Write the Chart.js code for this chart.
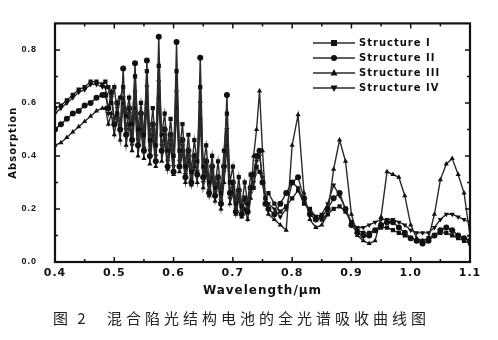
<!DOCTYPE html>
<html>
<head>
<meta charset="utf-8">
<script src="https://cdn.jsdelivr.net/npm/chart.js@4/dist/chart.umd.min.js"></script>
<style>
  body { margin: 0; background: #fff; }
  #wrap { position: relative; width: 498px; height: 340px; }
  .cap { position: absolute; top: 307px; font: 15px "Noto Sans CJK SC", sans-serif; color: #222; }
</style>
</head>
<body>
<div id="wrap">
  <canvas id="absChart" width="498" height="340"></canvas>
  <span class="cap" style="left:53px; letter-spacing:3px">图&nbsp;2</span>
  <span class="cap" style="left:107px; letter-spacing:4px">混合陷光结构电池的全光谱吸收曲线图</span>
</div>
<script>
// wavelength (um): coarse at the ends, 5 nm steps through the resonance region
let wavelength = [
    0.40,0.41,0.42,0.43,0.44,0.45,0.46,0.47,0.48,
    0.485,0.490,0.495,0.500,0.505,0.510,0.515,0.520,0.525,0.530,
    0.535,0.540,0.545,0.550,0.555,0.560,0.565,0.570,0.575,0.580,
    0.585,0.590,0.595,0.600,0.605,0.610,0.615,0.620,0.625,0.630,
    0.635,0.640,0.645,0.650,0.655,0.660,0.665,0.670,0.675,0.680,
    0.685,0.690,0.695,0.700,0.705,0.710,0.715,0.720,0.725,0.730,
    0.735,0.740,0.745,0.750,0.755,0.760,
    0.77,0.78,0.79,0.80,0.81,0.82,0.83,0.84,0.85,0.86,
    0.87,0.88,0.89,0.90,0.91,0.92,0.93,0.94,0.95,0.96,
    0.97,0.98,0.99,1.00,1.01,1.02,1.03,1.04,1.05,1.06,
    1.07,1.08,1.09,1.10
];

let seriesNames = ["Structure I", "Structure II", "Structure III", "Structure IV"];

let structure1 = [
    0.58,0.59,0.61,0.63,0.65,0.66,0.68,0.68,0.67,
    0.68,0.66,0.60,0.66,0.56,0.62,0.66,0.55,0.62,0.52,
    0.70,0.50,0.60,0.48,0.72,0.46,0.58,0.44,0.74,0.48,
    0.56,0.42,0.54,0.40,0.72,0.42,0.52,0.36,0.48,0.34,
    0.46,0.38,0.66,0.36,0.44,0.30,0.40,0.28,0.38,0.26,
    0.42,0.56,0.30,0.36,0.22,0.32,0.21,0.30,0.22,0.33,
    0.28,0.36,0.34,0.30,0.24,0.26,
    0.22,0.19,0.21,0.24,0.27,0.22,0.20,0.17,0.16,0.18,
    0.20,0.21,0.19,0.15,0.12,0.11,0.11,0.12,0.13,0.13,
    0.12,0.11,0.10,0.09,0.08,0.08,0.09,0.10,0.11,0.11,
    0.10,0.09,0.08,0.07
];
let structure2 = [
    0.50,0.52,0.54,0.56,0.57,0.59,0.60,0.62,0.63,
    0.63,0.58,0.64,0.52,0.60,0.50,0.73,0.48,0.58,0.46,
    0.75,0.44,0.56,0.42,0.76,0.40,0.52,0.38,0.85,0.42,
    0.50,0.36,0.48,0.34,0.83,0.36,0.46,0.32,0.42,0.30,
    0.40,0.33,0.77,0.32,0.38,0.26,0.36,0.25,0.32,0.22,
    0.36,0.63,0.26,0.30,0.19,0.27,0.18,0.24,0.19,0.28,
    0.33,0.40,0.42,0.30,0.22,0.20,
    0.18,0.22,0.26,0.30,0.32,0.24,0.18,0.16,0.17,0.20,
    0.24,0.26,0.20,0.14,0.11,0.10,0.10,0.12,0.14,0.15,
    0.15,0.13,0.11,0.09,0.08,0.07,0.08,0.10,0.12,0.13,
    0.12,0.10,0.09,0.08
];
let structure3 = [
    0.44,0.45,0.47,0.49,0.51,0.53,0.55,0.57,0.58,
    0.58,0.52,0.56,0.48,0.55,0.46,0.60,0.44,0.52,0.42,
    0.58,0.40,0.50,0.39,0.60,0.37,0.48,0.36,0.62,0.38,
    0.46,0.35,0.44,0.33,0.58,0.34,0.42,0.30,0.38,0.29,
    0.36,0.30,0.54,0.28,0.34,0.25,0.32,0.23,0.30,0.20,
    0.30,0.44,0.22,0.26,0.18,0.24,0.17,0.20,0.16,0.24,
    0.40,0.50,0.645,0.42,0.24,0.18,
    0.16,0.14,0.12,0.44,0.555,0.26,0.16,0.13,0.14,0.18,
    0.35,0.46,0.38,0.18,0.10,0.08,0.07,0.08,0.17,0.34,
    0.33,0.32,0.25,0.14,0.09,0.08,0.09,0.18,0.31,0.37,
    0.39,0.33,0.26,0.10
];
let structure4 = [
    0.56,0.58,0.60,0.62,0.64,0.65,0.67,0.67,0.66,
    0.66,0.56,0.62,0.54,0.58,0.50,0.62,0.50,0.56,0.44,
    0.64,0.46,0.54,0.43,0.66,0.42,0.50,0.40,0.68,0.44,
    0.48,0.38,0.46,0.36,0.64,0.38,0.44,0.33,0.40,0.31,
    0.38,0.34,0.60,0.30,0.36,0.27,0.34,0.26,0.31,0.23,
    0.34,0.50,0.24,0.28,0.20,0.25,0.19,0.23,0.20,0.26,
    0.30,0.38,0.40,0.32,0.24,0.22,
    0.20,0.17,0.20,0.30,0.28,0.23,0.19,0.17,0.18,0.22,
    0.29,0.25,0.20,0.15,0.13,0.13,0.14,0.15,0.16,0.16,
    0.16,0.15,0.14,0.12,0.11,0.11,0.11,0.13,0.16,0.18,
    0.18,0.17,0.16,0.15
];

let allSeries = [structure1, structure2, structure3, structure4];
let markers = [
    { style: "rect", rot: 0 },
    { style: "circle", rot: 0 },
    { style: "triangle", rot: 0 },
    { style: "triangle", rot: 180 }
];

let datasets = allSeries.map(function (s, k) {
    return {
        label: seriesNames[k],
        data: wavelength.map(function (w, i) { return { x: w, y: s[i] }; }),
        borderColor: "#2a2a2a",
        borderWidth: 1.4,
        backgroundColor: "#111",
        pointBackgroundColor: "#111",
        pointBorderColor: "#111",
        pointBorderWidth: 0,
        pointStyle: markers[k].style,
        pointRotation: markers[k].rot,
        pointRadius: 3,
        tension: 0
    };
});

// inward ticks on all four sides, heavy frame, legend inside plot
let framePlugin = {
    id: "frame",
    beforeDraw: function (chart) { chart.ctx.letterSpacing = "1px"; },
    beforeDatasetsDraw: function (chart) { chart.ctx.letterSpacing = "0px"; },
    afterDraw: function (chart) {
        let ctx = chart.ctx, a = chart.chartArea;
        let xs = chart.scales.x, ys = chart.scales.y;
        ctx.save();
        ctx.strokeStyle = "#111";
        ctx.lineWidth = 1.5;
        xs.ticks.forEach(function (t) {
            let px = xs.getPixelForValue(t.value);
            if (px <= a.left + 1 || px >= a.right - 1) return;
            let len = Math.round(t.value * 100) % 10 === 0 ? 5 : 3;
            ctx.beginPath();
            ctx.moveTo(px, a.bottom); ctx.lineTo(px, a.bottom - len);
            ctx.moveTo(px, a.top); ctx.lineTo(px, a.top + len);
            ctx.stroke();
        });
        ys.ticks.forEach(function (t) {
            let py = ys.getPixelForValue(t.value);
            if (py <= a.top + 1 || py >= a.bottom - 1) return;
            let len = Math.round(t.value * 10) % 2 === 0 ? 5 : 3;
            ctx.beginPath();
            ctx.moveTo(a.left, py); ctx.lineTo(a.left + len, py);
            ctx.moveTo(a.right, py); ctx.lineTo(a.right - len, py);
            ctx.stroke();
        });
        ctx.lineWidth = 2.2;
        ctx.strokeRect(a.left, a.top, a.right - a.left, a.bottom - a.top);

        ctx.font = "bold 10px 'DejaVu Sans', sans-serif";
        ctx.letterSpacing = "1px";
        ctx.textBaseline = "middle";
        ctx.fillStyle = "#111";
        chart.data.datasets.forEach(function (ds, k) {
            let y = 43 + k * 15;
            ctx.lineWidth = 1.4;
            ctx.strokeStyle = "#2a2a2a";
            ctx.beginPath(); ctx.moveTo(313, y); ctx.lineTo(355, y); ctx.stroke();
            let r = 3, cx = 334;
            ctx.beginPath();
            if (markers[k].style === "rect") {
                ctx.rect(cx - r, y - r, 2 * r, 2 * r);
            } else if (markers[k].style === "circle") {
                ctx.arc(cx, y, r, 0, Math.PI * 2);
            } else if (markers[k].rot === 0) {
                ctx.moveTo(cx, y - r - 1); ctx.lineTo(cx + r + 0.5, y + r - 0.5); ctx.lineTo(cx - r - 0.5, y + r - 0.5);
            } else {
                ctx.moveTo(cx, y + r + 1); ctx.lineTo(cx + r + 0.5, y - r + 0.5); ctx.lineTo(cx - r - 0.5, y - r + 0.5);
            }
            ctx.closePath();
            ctx.fill();
            ctx.fillText(ds.label, 359, y);
        });
        ctx.restore();
    }
};

new Chart(document.getElementById("absChart").getContext("2d"), {
    type: "line",
    data: { datasets: datasets },
    options: {
        responsive: false,
        animation: false,
        devicePixelRatio: 1,
        layout: { padding: { left: 0, right: 28, top: 23, bottom: 38 } },
        plugins: { legend: { display: false }, tooltip: { enabled: false } },
        scales: {
            x: {
                type: "linear",
                min: 0.4, max: 1.1,
                afterFit: function (s) { s.height = 40; },
                grid: { display: false, drawTicks: false },
                border: { display: false },
                ticks: {
                    stepSize: 0.05,
                    padding: 5,
                    color: "#111",
                    font: { family: "'DejaVu Sans', sans-serif", weight: "bold", size: 11 },
                    callback: function (v) {
                        return Math.round(v * 100) % 10 === 0 ? v.toFixed(1) : "";
                    }
                },
                title: {
                    display: true,
                    text: "Wavelength/μm",
                    color: "#111",
                    padding: { top: 0, bottom: 4 },
                    font: { family: "'DejaVu Sans', sans-serif", weight: "bold", size: 12 }
                }
            },
            y: {
                min: 0, max: 0.9,
                afterFit: function (s) { s.width = 55; },
                grid: { display: false, drawTicks: false },
                border: { display: false },
                ticks: {
                    stepSize: 0.1,
                    padding: 18,
                    color: "#111",
                    font: { family: "'Liberation Sans', sans-serif", weight: "bold", size: 9 },
                    callback: function (v) {
                        let n = Math.round(v * 10);
                        return (n % 2 === 0 && n < 9) ? v.toFixed(1) : "";
                    }
                },
                title: {
                    display: true,
                    text: "Absorption",
                    color: "#111",
                    padding: { top: 7, bottom: 0 },
                    font: { family: "'DejaVu Sans', sans-serif", weight: "bold", size: 10 }
                }
            }
        }
    },
    plugins: [framePlugin]
});
</script>
</body>
</html>
